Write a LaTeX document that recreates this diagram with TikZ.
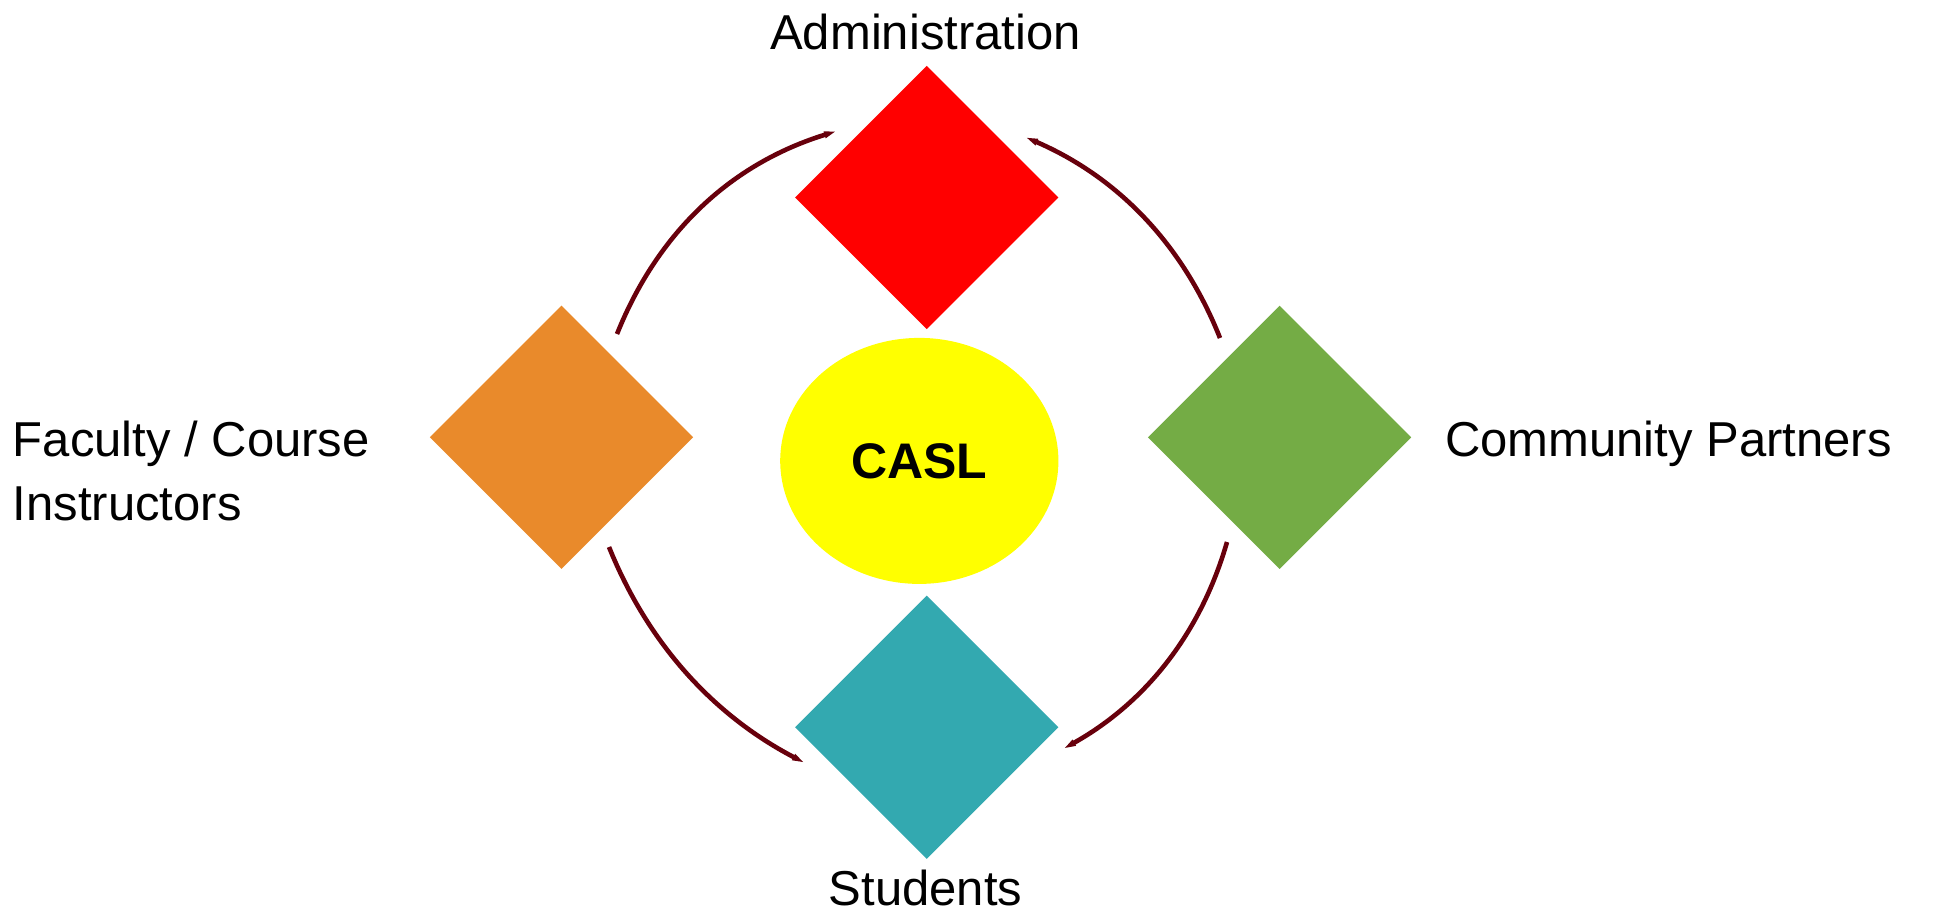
\documentclass[tikz,border=0pt]{standalone}
\usepackage{fontspec}
\setmainfont{Liberation Sans}
\usetikzlibrary{arrows.meta,shapes.geometric}
\definecolor{admred}{RGB}{255,0,0}
\definecolor{facorange}{RGB}{233,138,43}
\definecolor{comgreen}{RGB}{116,172,69}
\definecolor{stuteal}{RGB}{51,169,176}
\definecolor{caslyellow}{RGB}{255,255,0}
\definecolor{arcred}{RGB}{104,0,12}
\begin{document}
\begin{tikzpicture}[x=1pt,y=-1pt,
  dia/.style={diamond,aspect=1,inner sep=0pt,minimum width=263.4pt,minimum height=263.4pt,draw=none},
  lbl/.style={inner sep=0pt,font=\fontsize{49}{64.7}\selectfont},
  arcline/.style={draw=arcred,line width=4.6pt,-{Triangle[length=13pt,width=6pt]}}]
\useasboundingbox[fill=white] (0,0) rectangle (1948,913);
\node[dia,fill=admred] (adm) at (926.7,197.5) {};
\node[dia,fill=facorange] (fac) at (561.5,437.3) {};
\node[dia,fill=comgreen] (com) at (1279.6,437.3) {};
\node[dia,fill=stuteal] (stu) at (926.7,727.3) {};
\node[ellipse,fill=caslyellow,inner sep=0pt,minimum width=278.2pt,minimum height=246pt,
      font=\fontsize{50}{60}\selectfont\bfseries] (casl) at (919.3,460.9) {CASL};
\node[lbl,anchor=base] (admt) at (925.5,49.7) {Administration};
\node[lbl,anchor=base] (stut) at (925.5,905.6) {Students};
\node[lbl,anchor=base west] (fact1) at (12.7,456) {Faculty / Course};
\node[lbl,anchor=base west] (fact2) at (12.7,520.7) {Instructors};
\node[lbl,anchor=base west] (comt) at (1444.8,456) {Community Partners};
\coordinate (tlA) at (617,334);
\coordinate (tlB) at (837,131);
\coordinate (trA) at (1220,338);
\coordinate (trB) at (1025,137);
\coordinate (blA) at (609,547);
\coordinate (blB) at (805,763);
\coordinate (brA) at (1227,542);
\coordinate (brB) at (1063,749);
\draw[arcline] (tlA) .. controls (658.2,231.4) and (731.5,163.7) .. (tlB);
\draw[arcline] (trA) .. controls (1182.7,244.1) and (1117.7,177.1) .. (trB);
\draw[arcline] (blA) .. controls (647.7,643) and (713,715) .. (blB);
\draw[arcline] (brA) .. controls (1200.6,633.4) and (1145.9,702.4) .. (brB);
\end{tikzpicture}
\end{document}
